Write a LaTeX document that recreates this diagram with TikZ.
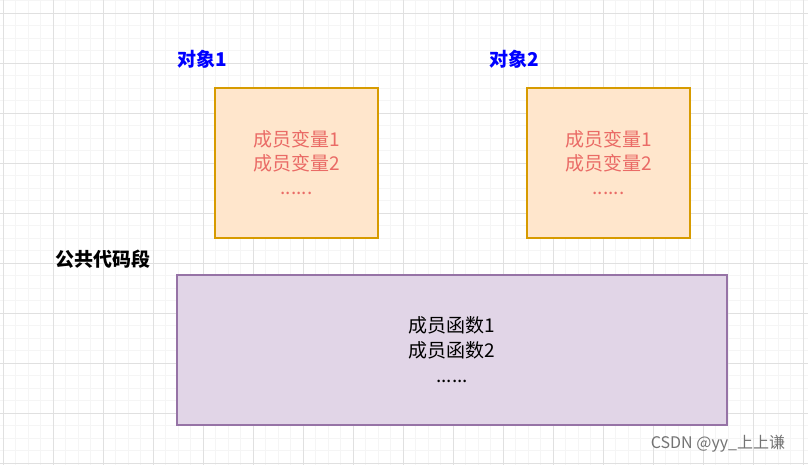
\documentclass[tikz,border=0pt]{standalone}
\usepackage{fontspec}
\setmainfont{Liberation Sans}
\newfontfamily\cjk{Noto Sans CJK SC}
\begin{document}
\begin{tikzpicture}[x=1pt,y=-1pt,
  obj/.style={draw={rgb,255:red,215;green,155;blue,0},fill={rgb,255:red,255;green,230;blue,204},line width=1.5pt,minimum width=163pt,minimum height=150pt,text={rgb,255:red,234;green,107;blue,102},font=\cjk\fontsize{19}{24}\selectfont,align=center},
  lbl/.style={font=\cjk\bfseries\fontsize{19}{22}\selectfont}]
\useasboundingbox (0,0) rectangle (808,465);
\fill[white] (0,0) rectangle (808,465);
\foreach \x in {3,15.5,...,808} \draw[black!4,line width=0.6pt] (\x,0) -- (\x,465);
\foreach \y in {0.5,13,...,465} \draw[black!4,line width=0.6pt] (0,\y) -- (808,\y);
\foreach \x in {3,53,...,808} \draw[black!12,line width=0.7pt] (\x,0) -- (\x,465);
\foreach \y in {13,63,...,465} \draw[black!12,line width=0.7pt] (0,\y) -- (808,\y);
\node[obj] (o1) at (296.5,163) {成员变量1\\成员变量2\\......};
\node[obj] (o2) at (608.5,163) {成员变量1\\成员变量2\\......};
\node[draw={rgb,255:red,150;green,115;blue,166},fill={rgb,255:red,225;green,213;blue,231},line width=1.5pt,minimum width=550pt,minimum height=150pt,font=\cjk\fontsize{19}{25}\selectfont,align=center] (p) at (452,350) {成员函数1\\成员函数2\\......};
\node[lbl,text=blue] (l1) at (202,59) {对象1};
\node[lbl,text=blue] (l2) at (514,59) {对象2};
\node[lbl] (l3) at (103,259) {公共代码段};
\node[font=\cjk\fontsize{16}{18}\selectfont,text=black!55] (wm) at (718,444) {CSDN @yy\_上上谦};
\end{tikzpicture}
\end{document}
